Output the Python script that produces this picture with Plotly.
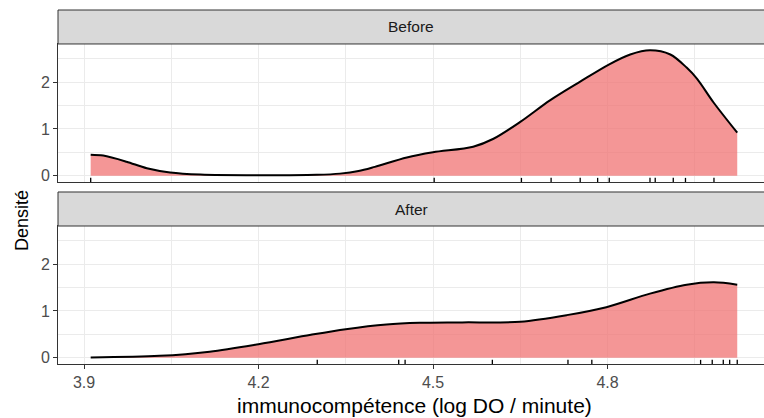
import plotly.graph_objects as go

# Facet labels (top to bottom)
panels = ["Before", "After"]

# Individual observations (log DO / minute), shown as rug marks
before_obs = [3.9115, 4.502, 4.652, 4.703, 4.753, 4.783, 4.803,
              4.873, 4.882, 4.913, 4.934, 4.983]
after_obs = [4.301, 4.441, 4.452, 4.602, 4.732, 4.773,
             4.960, 4.980, 4.999, 5.010, 5.023]

# Kernel density curves, sampled along the shared x range
before_x = [3.9115, 3.933, 3.973, 4.008, 4.048, 4.10, 4.20, 4.30, 4.34,
            4.372, 4.40, 4.455, 4.50, 4.569, 4.604, 4.65, 4.701, 4.753,
            4.803, 4.839, 4.873, 4.908, 4.936, 4.954, 4.982, 5.023]
before_density = [0.45, 0.43, 0.30, 0.16, 0.07, 0.025, 0.01, 0.02, 0.045,
                  0.10, 0.19, 0.39, 0.50, 0.62, 0.79, 1.15, 1.61, 2.01,
                  2.38, 2.59, 2.68, 2.59, 2.31, 2.07, 1.57, 0.92]

after_x = [3.9115, 4.03, 4.116, 4.20, 4.29, 4.35, 4.42, 4.477, 4.55,
           4.65, 4.73, 4.798, 4.873, 4.936, 4.983, 5.023]
after_density = [0.005, 0.04, 0.13, 0.29, 0.49, 0.61, 0.71, 0.745, 0.755,
                 0.77, 0.91, 1.08, 1.37, 1.56, 1.61, 1.56]

x_ticks = [3.9, 4.2, 4.5, 4.8]
y_ticks = [0, 1, 2]

x_title = "immunocompétence (log DO / minute)"
y_title = "Densité"

FONT = "Liberation Sans, Arial, sans-serif"
FILL = "rgba(240,110,110,0.72)"
BORDER = "#333333"
GRID = "#EBEBEB"

fig = go.Figure()

# Before -> x2/y2 (top panel), After -> x/y (bottom panel)
series = [
    (before_x, before_density, before_obs, "x2", "y2"),
    (after_x, after_density, after_obs, "x", "y"),
]

for xs, ds, obs, xa, ya in series:
    fig.add_trace(go.Scatter(
        x=xs, y=ds, xaxis=xa, yaxis=ya,
        mode="lines", line=dict(color="black", width=2, shape="spline", smoothing=0.9),
        fill="tozeroy", fillcolor=FILL, hoverinfo="skip", showlegend=False,
    ))
    for v in obs:
        fig.add_shape(type="line", xref=xa, yref=f"{ya} domain",
                      x0=v, x1=v, y0=0, y1=0.03,
                      line=dict(color="black", width=1.3))

x_range = [3.8553, 5.069]
y_range = [-0.134, 2.814]

axis_common = dict(
    range=x_range, tickmode="array", tickvals=x_ticks,
    showgrid=True, gridcolor=GRID, gridwidth=1.1,
    minor=dict(tickmode="linear", tick0=3.75, dtick=0.15, showgrid=True,
               gridcolor=GRID, gridwidth=0.6, ticks=""),
    showline=True, linecolor=BORDER, linewidth=1, mirror=True,
    zeroline=False,
    tickfont=dict(family=FONT, size=16, color="#4D4D4D"),
)
yaxis_common = dict(
    range=y_range, tickmode="array", tickvals=y_ticks,
    showgrid=True, gridcolor=GRID, gridwidth=1.1,
    minor=dict(tickmode="array", tickvals=[0.5, 1.5, 2.5], showgrid=True,
               gridcolor=GRID, gridwidth=0.6, ticks=""),
    showline=True, linecolor=BORDER, linewidth=1,
    zeroline=False, ticks="outside", ticklen=4, tickcolor=BORDER, tickwidth=1,
    tickfont=dict(family=FONT, size=16, color="#4D4D4D"),
)

# panel / strip vertical domains (paper coordinates)
after_dom = [0.0, 0.3898]
after_strip = [0.3898, 0.4859]
before_dom = [0.5141, 0.9040]
before_strip = [0.9040, 1.0]

fig.update_layout(
    width=764, height=418,
    margin=dict(l=58, r=0, t=10, b=54),
    paper_bgcolor="white", plot_bgcolor="white",
    xaxis=dict(axis_common, anchor="y", ticks="outside", ticklen=4,
               tickcolor=BORDER, tickwidth=1, showticklabels=True),
    xaxis2=dict(axis_common, anchor="y2", matches="x", ticks="",
                showticklabels=False),
    yaxis=dict(yaxis_common, domain=after_dom, anchor="x"),
    yaxis2=dict(yaxis_common, domain=before_dom, anchor="x2"),
)

# facet strips
for label, dom in zip(panels, [before_strip, after_strip]):
    fig.add_shape(type="rect", xref="paper", yref="paper",
                  x0=0, x1=1.03, y0=dom[0], y1=dom[1],
                  fillcolor="#D9D9D9", line=dict(color=BORDER, width=1),
                  layer="above")
    fig.add_annotation(xref="paper", yref="paper", x=0.5, y=(dom[0] + dom[1]) / 2,
                       text=label, showarrow=False, xanchor="center", yanchor="middle",
                       font=dict(family=FONT, size=15.5, color="#1A1A1A"))

# axis titles
fig.add_annotation(xref="paper", yref="paper", x=0.505, y=-0.118,
                   text=x_title, showarrow=False, xanchor="center", yanchor="middle",
                   font=dict(family=FONT, size=21, color="black"))
fig.add_annotation(xref="paper", yref="paper", x=-0.051, y=0.407,
                   text=y_title, textangle=-90, showarrow=False,
                   xanchor="center", yanchor="middle",
                   font=dict(family=FONT, size=18, color="black"))

fig.write_html("out.html")
